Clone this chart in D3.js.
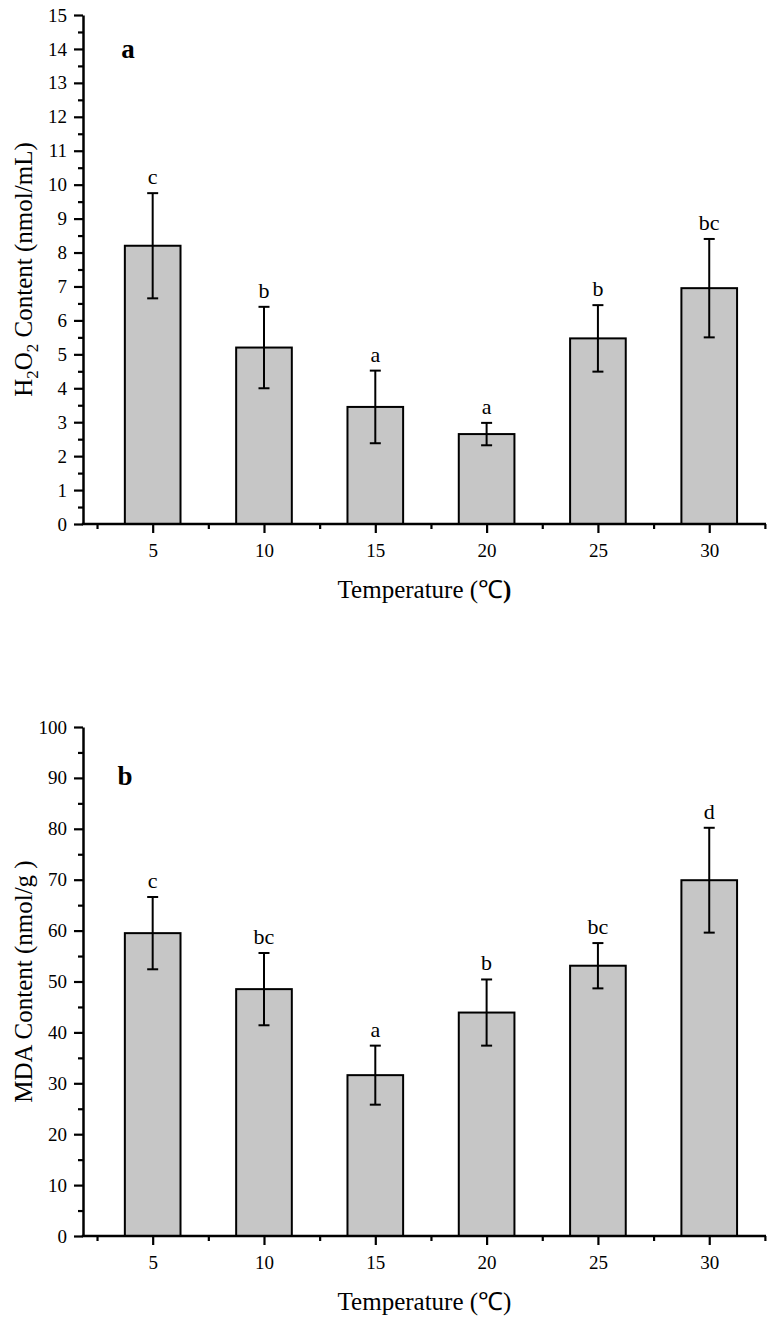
<!DOCTYPE html>
<html>
<head>
<meta charset="utf-8">
<script src="https://cdn.jsdelivr.net/npm/d3@7"></script>
<style>
  html, body { margin: 0; padding: 0; background: #fff; }
  svg { display: block; }
  text { font-family: "Liberation Serif", "Times New Roman", serif; fill: #000; }
</style>
</head>
<body>
<script>
// ---------- data ----------
const temperatures = [5, 10, 15, 20, 25, 30];
const h2o2Mean = [8.2, 5.2, 3.45, 2.65, 5.47, 6.95];
const h2o2Err = [1.55, 1.2, 1.07, 0.33, 0.98, 1.45];
const h2o2Letters = ["c", "b", "a", "a", "b", "bc"];
const mdaMean = [59.5, 48.5, 31.6, 43.9, 53.1, 69.9];
const mdaErr = [7.1, 7.1, 5.8, 6.5, 4.45, 10.3];
const mdaLetters = ["c", "bc", "a", "b", "bc", "d"];
const xTickLabels = [5, 10, 15, 20, 25, 30];
const xMinorTicks = [2.5, 7.5, 12.5, 17.5, 22.5, 27.5, 32.5];
const yTicksA = [0, 1, 2, 3, 4, 5, 6, 7, 8, 9, 10, 11, 12, 13, 14, 15];
const yTicksB = [0, 10, 20, 30, 40, 50, 60, 70, 80, 90, 100];

// ---------- layout ----------
const W = 772, H = 1324;
const svg = d3.select("body").append("svg").attr("width", W).attr("height", H);

const X0 = 83, X1 = 766;
const x = d3.scaleLinear().domain([1.87, 32.55]).range([X0, X1]);
const barHalf = 1.25;

function panel(opts) {
  const { top, bottom, yMax, yTicks, minorStep, means, errs, letters, panelLabel, labelX, labelDy, titleParts, boldParen } = opts;
  const y = d3.scaleLinear().domain([0, yMax]).range([bottom, top]);
  const g = svg.append("g");

  // bars
  g.selectAll("rect.bar").data(temperatures).join("rect")
    .attr("class", "bar")
    .attr("x", d => x(d - barHalf))
    .attr("width", d => x(d + barHalf) - x(d - barHalf))
    .attr("y", (d, i) => y(means[i]))
    .attr("height", (d, i) => y(0) - y(means[i]))
    .attr("fill", "#c6c6c6")
    .attr("stroke", "#000")
    .attr("stroke-width", 2);

  // error bars
  const eb = g.selectAll("g.err").data(temperatures).join("g").attr("class", "err");
  eb.append("line")
    .attr("x1", d => x(d)).attr("x2", d => x(d))
    .attr("y1", (d, i) => y(means[i] + errs[i]))
    .attr("y2", (d, i) => y(means[i] - errs[i]))
    .attr("stroke", "#000").attr("stroke-width", 2);
  [1, -1].forEach(s => {
    eb.append("line")
      .attr("x1", d => x(d) - 5.5).attr("x2", d => x(d) + 5.5)
      .attr("y1", (d, i) => y(means[i] + s * errs[i]))
      .attr("y2", (d, i) => y(means[i] + s * errs[i]))
      .attr("stroke", "#000").attr("stroke-width", 2);
  });

  // significance letters
  g.selectAll("text.sig").data(temperatures).join("text")
    .attr("class", "sig")
    .attr("x", d => x(d))
    .attr("y", (d, i) => y(means[i] + errs[i]) - 9)
    .attr("text-anchor", "middle")
    .attr("font-size", 22)
    .text((d, i) => letters[i]);

  // y axis
  const minor = d3.range(0, yMax + 1e-9, minorStep).filter(v => !yTicks.includes(v));
  const ya = g.append("g").attr("transform", `translate(${X0},0)`)
    .call(d3.axisLeft(y).tickValues(yTicks).tickSize(9).tickSizeOuter(0).tickPadding(7).tickFormat(d3.format("d")));
  const yam = g.append("g").attr("transform", `translate(${X0},0)`)
    .call(d3.axisLeft(y).tickValues(minor).tickSize(5).tickSizeOuter(0).tickFormat(""));
  yam.select(".domain").remove();

  // x axis
  const xa = g.append("g").attr("transform", `translate(0,${bottom})`)
    .call(d3.axisBottom(x).tickValues(xTickLabels).tickSize(9).tickSizeOuter(0).tickPadding(10.5).tickFormat(d3.format("d")));
  const xam = g.append("g").attr("transform", `translate(0,${bottom})`)
    .call(d3.axisBottom(x).tickValues(xMinorTicks).tickSize(5).tickSizeOuter(0).tickFormat(""));
  xam.select(".domain").remove();

  [ya, yam, xa, xam].forEach(a => {
    a.selectAll("path, line").attr("stroke", "#000").attr("stroke-width", 2.2);
    a.selectAll("text").attr("font-size", 19).attr("font-family", '"Liberation Serif", "Times New Roman", serif').attr("fill", "#000");
  });
  ya.select(".domain").attr("stroke-width", 2.5);
  xa.select(".domain").attr("d", `M${X0 - 1.2},0H${X1}`).attr("stroke-width", 2.5);

  // panel label
  g.append("text")
    .attr("x", labelX)
    .attr("y", top + labelDy)
    .attr("text-anchor", "middle")
    .attr("font-size", 27)
    .attr("font-weight", "bold")
    .text(panelLabel);

  // x title
  const xt = g.append("text")
    .attr("x", (X0 + X1) / 2)
    .attr("y", bottom + 74)
    .attr("text-anchor", "middle")
    .attr("font-size", 25);
  xt.append("tspan").text("Temperature (℃");
  xt.append("tspan").attr("font-weight", boldParen ? "bold" : "normal").text(")");

  // y title
  const yt = g.append("text")
    .attr("transform", `translate(32,${(top + bottom) / 2}) rotate(-90)`)
    .attr("text-anchor", "middle")
    .attr("font-size", 25);
  titleParts.forEach(p => {
    const t = yt.append("tspan").text(p.t);
    if (p.sub) t.attr("font-size", 17).attr("dy", 6);
    if (p.up) t.attr("dy", -6);
  });
}

panel({
  top: 15, bottom: 524, yMax: 15, yTicks: yTicksA, minorStep: 0.5,
  means: h2o2Mean, errs: h2o2Err, letters: h2o2Letters,
  panelLabel: "a", labelX: 128, labelDy: 43, boldParen: true,
  titleParts: [{ t: "H" }, { t: "2", sub: true }, { t: "O", up: true }, { t: "2", sub: true }, { t: " Content (nmol/mL)", up: true }]
});

panel({
  top: 727, bottom: 1236, yMax: 100, yTicks: yTicksB, minorStep: 5,
  means: mdaMean, errs: mdaErr, letters: mdaLetters,
  panelLabel: "b", labelX: 125, labelDy: 58, boldParen: false,
  titleParts: [{ t: "MDA Content (nmol/g )" }]
});
</script>
</body>
</html>
